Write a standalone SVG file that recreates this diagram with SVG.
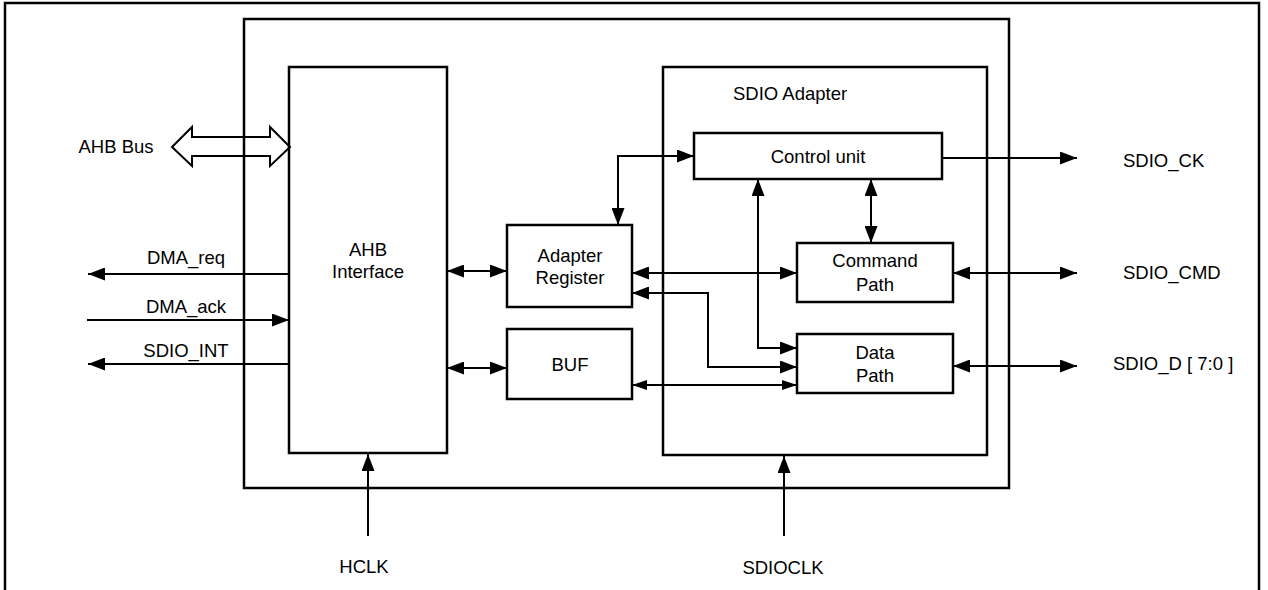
<svg xmlns="http://www.w3.org/2000/svg" width="1268" height="590" viewBox="0 0 1268 590">
<style>
.box{fill:none;stroke:#000;stroke-width:2.5}
.ln{fill:none;stroke:#000;stroke-width:2}
.d{marker-start:url(#ah);marker-end:url(#ah)}
.e{marker-end:url(#ah)}
.ds{marker-start:url(#as);marker-end:url(#as)}
text{font-family:"Liberation Sans",Arial,sans-serif;font-size:18.5px;fill:#000}
.m{text-anchor:middle}
</style>
<defs>
<marker id="ah" viewBox="0 0 17 13" refX="17" refY="6.5" markerWidth="17" markerHeight="13" markerUnits="userSpaceOnUse" orient="auto-start-reverse"><path d="M0,0 L17,6.5 L0,13 z" fill="#000"/></marker>
<marker id="as" viewBox="0 0 15 10" refX="15" refY="5" markerWidth="15" markerHeight="10" markerUnits="userSpaceOnUse" orient="auto-start-reverse"><path d="M0,0 L15,5 L0,10 z" fill="#000"/></marker>
</defs>
<rect width="1268" height="590" fill="#fff"/>
<g id="frame"><path class="box" d="M5,600 V3 H1259 V600"/></g>
<g id="chip"><rect class="box" x="244" y="19" width="765" height="469"/></g>
<g id="ahb-interface"><rect class="box" x="289" y="67" width="158" height="386"/><text class="m" x="368" y="256">AHB</text><text class="m" x="368" y="278">Interface</text></g>
<g id="sdio-adapter"><rect class="box" x="663" y="67" width="324" height="388"/><text x="733" y="100">SDIO Adapter</text></g>
<g id="control-unit"><rect class="box" x="694" y="133" width="248" height="46"/><text class="m" x="818" y="163">Control unit</text></g>
<g id="adapter-register"><rect class="box" x="507" y="225" width="125" height="82"/><text class="m" x="570" y="262">Adapter</text><text class="m" x="570" y="284">Register</text></g>
<g id="buf"><rect class="box" x="507" y="329" width="125" height="70"/><text class="m" x="570" y="371">BUF</text></g>
<g id="command-path"><rect class="box" x="797" y="243" width="156" height="59"/><text class="m" x="875" y="267">Command</text><text class="m" x="875" y="291">Path</text></g>
<g id="data-path"><rect class="box" x="797" y="334" width="156" height="59"/><text class="m" x="875" y="359">Data</text><text class="m" x="875" y="382">Path</text></g>
<g id="connectors">
<polygon class="ln" points="172,147 192,127 192,137 270,137 270,127 290,147 270,166 270,156 192,156 192,166"/>
<line class="ln e" x1="289" y1="274" x2="88" y2="274"/>
<line class="ln e" x1="87" y1="320" x2="289" y2="320"/>
<line class="ln e" x1="289" y1="364" x2="88" y2="364"/>
<line class="ln d" x1="447" y1="271" x2="507" y2="271"/>
<line class="ln d" x1="447" y1="368" x2="507" y2="368"/>
<path class="ln d" d="M618,225 V156 H694"/>
<line class="ln d" x1="632" y1="273" x2="797" y2="273"/>
<path class="ln d" d="M632,293 H708 V367 H797"/>
<path class="ln d" d="M758,179 V348 H797"/>
<line class="ln ds" x1="632" y1="385" x2="797" y2="385"/>
<line class="ln d" x1="871" y1="179" x2="871" y2="243"/>
<line class="ln e" x1="942" y1="158" x2="1077" y2="158"/>
<line class="ln d" x1="953" y1="273" x2="1077" y2="273"/>
<line class="ln d" x1="953" y1="366" x2="1077" y2="366"/>
<line class="ln e" x1="368" y1="536" x2="368" y2="454"/>
<line class="ln e" x1="784" y1="536" x2="784" y2="456"/>
</g>
<g id="labels">
<text class="m" x="116" y="153">AHB Bus</text>
<text class="m" x="186" y="264">DMA_req</text>
<text class="m" x="186" y="313">DMA_ack</text>
<text class="m" x="186" y="357">SDIO_INT</text>
<text x="1123" y="167">SDIO_CK</text>
<text x="1123" y="279">SDIO_CMD</text>
<text x="1113" y="370">SDIO_D [ 7:0 ]</text>
<text class="m" x="364" y="573">HCLK</text>
<text class="m" x="783" y="574">SDIOCLK</text>
</g>
</svg>
